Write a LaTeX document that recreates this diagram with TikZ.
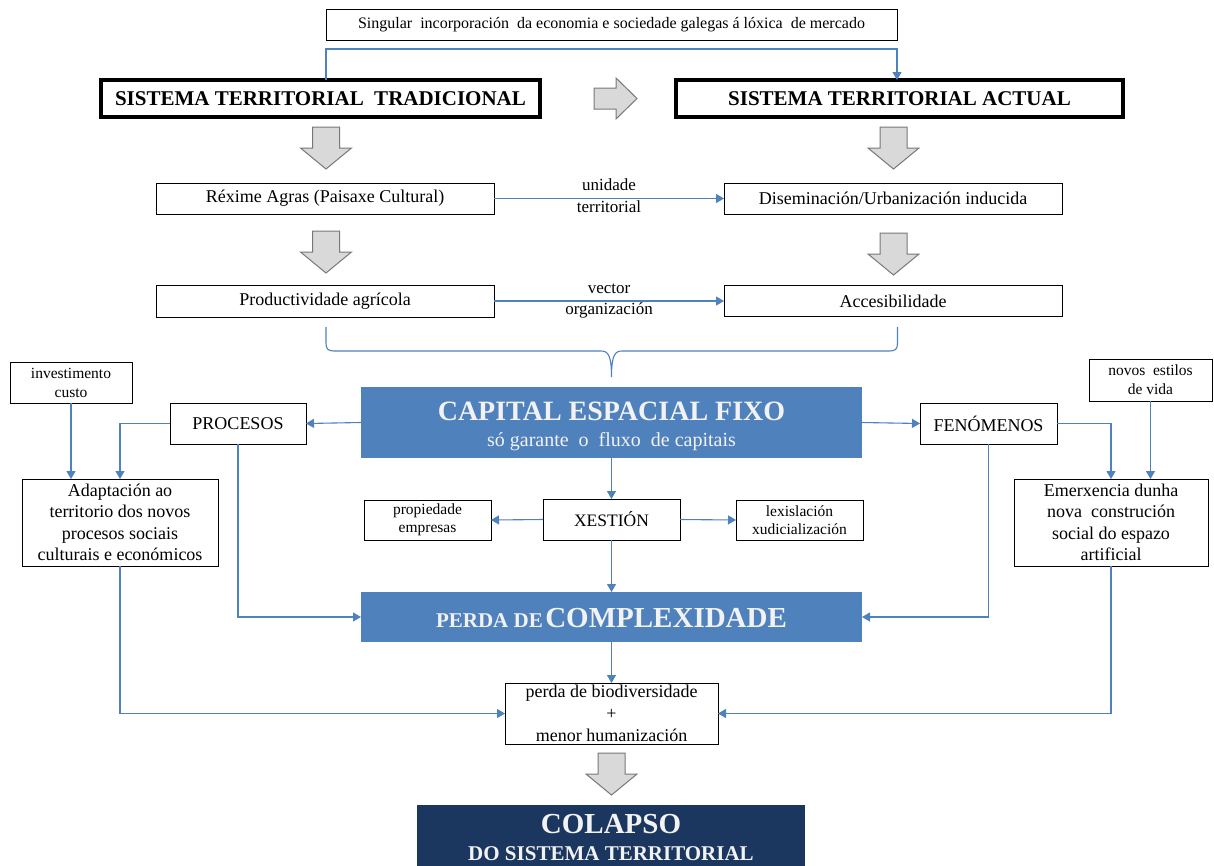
\documentclass[tikz,border=0pt]{standalone}
\usepackage{fontspec}
\setmainfont{Liberation Serif}
\usetikzlibrary{arrows.meta}
\definecolor{conn}{RGB}{79,129,189}
\definecolor{capblue}{RGB}{79,129,189}
\definecolor{navy}{RGB}{27,55,95}
\definecolor{arrfill}{RGB}{217,217,217}
\definecolor{arredge}{RGB}{120,120,120}
\definecolor{paletext}{RGB}{242,242,242}
\newcommand\fs[2]{\fontsize{#1}{#2}\selectfont}
\newcommand\downblk[2]{\draw[blk] ({#1-13.5},#2) -- ({#1+13.5},#2) -- ({#1+13.5},{#2+21}) -- ({#1+25.5},{#2+21}) -- (#1,{#2+42}) -- ({#1-25.5},{#2+21}) -- ({#1-13.5},{#2+21}) -- cycle;}
\begin{document}
\begin{tikzpicture}[x=1pt,y=-1pt,
  box/.style={draw=black, line width=1pt, inner sep=0pt, outer sep=0pt, align=center, fill=white},
  thickbox/.style={box, line width=3.5pt},
  fillbox/.style={inner sep=0pt, outer sep=0pt},
  link/.style={draw=conn, line width=1.1pt, -{Triangle[length=8pt,width=9pt]}},
  plain/.style={draw=conn, line width=1.1pt},
  blk/.style={draw=arredge, fill=arrfill, line width=1pt, line join=miter},
  lbl/.style={font=\fs{17}{20}, inner sep=0pt},
  wtext/.style={text=paletext, inner sep=0pt, anchor=base},
]
\useasboundingbox[fill=white] (0,0) rectangle (1214,865);

% top row
\node[box, minimum width=571pt, minimum height=31pt, font=\fs{16}{18}] (top) at (611.5,24.5)
  {Singular\ \ incorporación\ \ da economia e sociedade galegas á lóxica\ \ de mercado};
\node[thickbox, minimum width=439pt, minimum height=37pt, font=\fs{21}{24}\bfseries] (trad) at (320.5,98.5)
  {SISTEMA TERRITORIAL\ \ TRADICIONAL};
\node[thickbox, minimum width=447pt, minimum height=37pt, font=\fs{21}{24}\bfseries] (act) at (899.5,98.5)
  {SISTEMA TERRITORIAL ACTUAL};
\draw[link] (trad.north -| top.west) -- (top.west |- 0,49) -| (act.north -| top.east);
\draw[blk] (594,88) -- (616,88) -- (616,78) -- (637,98.5) -- (616,119) -- (616,109) -- (594,109) -- cycle;

% second and third rows
\node[box, minimum width=338pt, minimum height=31pt, font=\fs{18}{21}] (rex) at (325,198.5) {Réxime Agras (Paisaxe Cultural)};
\node[box, minimum width=338pt, minimum height=31pt, font=\fs{18}{21}] (dis) at (893,198.5) {Diseminación/Urbanización inducida};
\node[box, minimum width=338pt, minimum height=32pt, font=\fs{18}{21}] (prod) at (325,301) {Productividade agrícola};
\node[box, minimum width=338pt, minimum height=31pt, font=\fs{18}{21}] (acc) at (893,301) {Accesibilidade};
\draw[link] (rex) -- node[lbl, midway, anchor=base, yshift=8pt] {unidade}
  node[lbl, midway, anchor=base, yshift=-14pt] {territorial} (dis);
\draw[link] (prod) -- node[lbl, midway, anchor=base, yshift=8pt] {vector}
  node[lbl, midway, anchor=base, yshift=-13pt] {organización} (acc);
\downblk{326}{127}
\downblk{326}{231}
\downblk{893.5}{127}
\downblk{893.5}{233}

% brace
\coordinate (bl) at (326,327);
\coordinate (br) at (897.5,327);
\coordinate (bc) at (611.5,377);
\draw[plain] (bl) -- (326,343) .. controls (326,349) and (328,351) .. (334,351) -- (601,351)
  .. controls (608,351) and (611.5,355) .. (bc) .. controls (611.5,355) and (615,351) .. (622,351)
  -- (889.5,351) .. controls (895.5,351) and (897.5,349) .. (897.5,343) -- (br);

% capital
\node[fillbox, fill=capblue, minimum width=501pt, minimum height=71pt] (cap) at (611.5,422.5) {};
\node[wtext, font=\fs{28}{28}\bfseries] (capt1) at (611.5,420) {CAPITAL ESPACIAL FIXO};
\node[wtext, font=\fs{20}{20}] (capt2) at (611.5,446) {só garante\ \ o\ \ fluxo\ \ de capitais};

\node[box, minimum width=136pt, minimum height=41pt, font=\fs{18}{21}] (proc) at (238,423.5) {PROCESOS};
\node[box, minimum width=137pt, minimum height=41pt, font=\fs{18}{21}] (fen) at (988.5,423.5) {FENÓMENOS};
\node[box, minimum width=122pt, minimum height=41pt, font=\fs{15.5}{19}] (inv) at (71,382.5) {investimento\\custo};
\node[box, minimum width=123pt, minimum height=42pt, font=\fs{15.5}{19}] (nov) at (1150.5,380) {novos\ \ estilos\\de vida};
\node[box, minimum width=196pt, minimum height=87pt, font=\fs{18}{21.5}] (adap) at (120,522.5)
  {Adaptación ao\\territorio dos novos\\procesos sociais\\culturais e económicos};
\node[box, minimum width=194pt, minimum height=87pt, font=\fs{18}{21.5}] (emer) at (1111,522.5)
  {Emerxencia dunha\\nova\ \ construción\\social do espazo\\artificial};

\node[box, minimum width=137pt, minimum height=41pt, font=\fs{17.5}{21}] (xes) at (611.5,519.5) {XESTIÓN};
\node[box, minimum width=127pt, minimum height=40pt, font=\fs{15.5}{18.5}] (prop) at (427.5,520) {propiedade\\empresas};
\node[box, minimum width=127pt, minimum height=40pt, font=\fs{15.5}{18.5}] (lex) at (799.5,520) {lexislación\\xudicialización};

% perda
\node[fillbox, fill=capblue, minimum width=501pt, minimum height=50pt] (perda) at (611.5,617) {};
\node[wtext, font=\bfseries] (perdat) at (611.5,627) {{\fs{21}{21}PERDA DE} {\fs{29}{29}COMPLEXIDADE}};

\node[box, minimum width=213pt, minimum height=61pt, font=\fs{18}{22}] (bio) at (611.5,713.5)
  {perda de biodiversidade\\+\\menor humanización};

% colapso
\node[fillbox, fill=navy, minimum width=388pt, minimum height=65pt, anchor=north] (col) at (611,805) {};
\node[wtext, font=\fs{29}{29}\bfseries] (colt1) at (611,833) {COLAPSO};
\node[wtext, font=\fs{21}{21}\bfseries] (colt2) at (611,860) {DO SISTEMA TERRITORIAL};

% connectors
\draw[link] (cap.west) -- (proc.east);
\draw[link] (cap.east) -- (fen.west);
\draw[link] (proc.west) -| (adap.north);
\draw[link] (inv.south) -- (inv.south |- adap.north);
\draw[link] (fen.east) -| (emer.north);
\draw[link] (nov.south) -- (nov.south |- emer.north);
\draw[link] (cap.south) -- (xes.north);
\draw[link] (xes.west) -- (prop.east);
\draw[link] (xes.east) -- (lex.west);
\draw[link] (xes.south) -- (perda.north);
\draw[link] (proc.south) |- (perda.west);
\draw[link] (fen.south) |- (perda.east);
\draw[link] (perda.south) -- (bio.north);
\draw[link] (adap.south) |- (bio.west);
\draw[link] (emer.south) |- (bio.east);
\downblk{611.5}{753}
\end{tikzpicture}
\end{document}
